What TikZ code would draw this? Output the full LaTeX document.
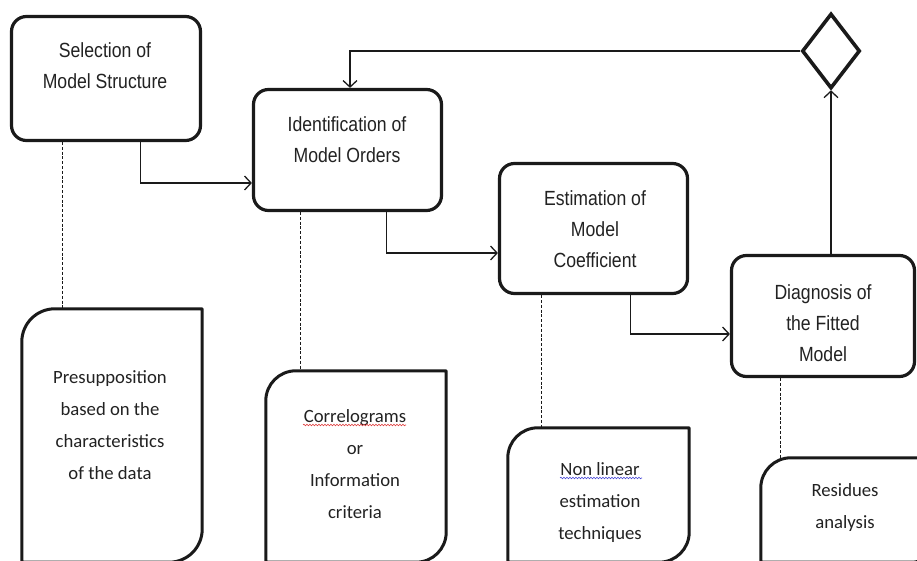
\documentclass[tikz,border=0pt]{standalone}
\usepackage{fontspec}
\newfontfamily\boxfont[FakeStretch=0.86]{Liberation Sans}
\newfontfamily\notefont{Carlito}
\usetikzlibrary{arrows.meta,calc,shapes.geometric,decorations.pathmorphing}
\definecolor{ink}{HTML}{1A1A1A}
\definecolor{txt}{HTML}{222222}
\definecolor{wavred}{HTML}{E04040}
\definecolor{wavblue}{HTML}{4A4AD8}
\begin{document}
\begin{tikzpicture}[x=1pt,y=-1pt,
 stepbox/.style={draw=ink, line width=3.2pt, rounded corners=15pt, inner sep=0pt},
 boxtext/.style={text=txt, align=center, font=\boxfont\fontsize{20.5}{31}\selectfont, inner sep=0pt},
 notebox/.style={inner sep=0pt, draw=none},
 noteline/.style={draw=ink, line width=3pt, line join=round},
 notetext/.style={text=txt, align=center, font=\notefont\fontsize{18.7}{32}\selectfont, inner sep=0pt},
 flow/.style={draw=ink, line width=1.3pt, -{Straight Barb[length=6.5pt,width=14pt]}},
 dashln/.style={draw=ink, line width=0.9pt, dash pattern=on 3pt off 1.8pt},
 wavy/.style={decorate, decoration={snake, amplitude=0.8pt, segment length=3pt}, line width=0.6pt}
]
\useasboundingbox[fill=white] (0,0) rectangle (917,561);

% process boxes
\node[stepbox, minimum width=189pt, minimum height=124pt] (b1) at (106,78.5) {};
\node[boxtext] (t1) at (105,66) {Selection of\\Model Structure};
\node[stepbox, minimum width=188pt, minimum height=121pt] (b2) at (347.5,150) {};
\node[boxtext] (t2) at (347,140) {Identification of\\Model Orders};
\node[stepbox, minimum width=188pt, minimum height=130pt] (b3) at (593.5,228.5) {};
\node[boxtext] (t3) at (595,229) {Estimation of\\Model\\Coefficient};
\node[stepbox, minimum width=183pt, minimum height=121pt] (b4) at (823,316) {};
\node[boxtext] (t4) at (823,323) {Diagnosis of\\the Fitted\\Model};

% decision diamond
\node[draw=ink, line width=3.6pt, diamond, minimum width=58pt, minimum height=75pt, inner sep=0pt] (d) at (831,51) {};

% note boxes
\node[notebox, minimum width=180pt, minimum height=253pt] (n1) at (112,435.5) {};
\node[notebox, minimum width=180pt, minimum height=191pt] (n2) at (356,466.5) {};
\node[notebox, minimum width=181pt, minimum height=134pt] (n3) at (598.5,495) {};
\node[notebox, minimum width=180pt, minimum height=104pt] (n4) at (851,510) {};
\foreach \n/\r in {n1/33pt,n2/30pt,n3/30pt,n4/30pt}{
  \draw[noteline] (\n.south west) [rounded corners=\r] -- (\n.north west) [sharp corners] -- (\n.north east) [rounded corners=\r] -- (\n.south east) [sharp corners] -- cycle;
}
\node[notetext] (nt1) at (110,425.5) {Presupposition\\based on the\\characteristics\\of the data};
\node[notetext] (nt2) at (355,464.5) {Correlograms\\or\\Information\\criteria};
\node[notetext] (nt3) at (600,502.5) {Non linear\\estimation\\techniques};
\node[notetext] (nt4) at (845,507.5) {Residues\\analysis};

% spell-check underlines
\draw[wavy, wavred] ($(nt2.center)+(-52,-39.5)$) -- ($(nt2.center)+(51,-39.5)$);
\draw[wavy, wavblue] ($(nt3.center)+(-40,-24.5)$) -- ($(nt3.center)+(42,-24.5)$);

% flow connectors
\coordinate (a1) at ($(b1.south west)+(130.5,0)$);
\coordinate (e1) at ($(b2.west)+(0,33)$);
\draw[flow] (a1) |- (e1);
\coordinate (a2) at ($(b2.south west)+(134.5,0)$);
\coordinate (e2) at ($(b3.west)+(0,24.5)$);
\draw[flow] (a2) |- (e2);
\coordinate (a3) at ($(b3.south west)+(132.5,0)$);
\coordinate (e3) at ($(b4.west)+(0,18)$);
\draw[flow] (a3) |- (e3);
\draw[flow] (d.south |- b4.north) -- (d.south);
\coordinate (fb) at ($(b2.north)+(2.5,0)$);
\draw[flow] (d.west) -| (fb);

% dashed links to notes
\coordinate (s1) at ($(b1.south west)+(52.5,0)$);
\draw[dashln] (s1) -- (s1 |- n1.north);
\coordinate (s2) at ($(b2.south west)+(48.5,0)$);
\draw[dashln] (s2) -- (s2 |- n2.north);
\coordinate (s3) at ($(b3.south west)+(43.5,0)$);
\draw[dashln] (s3) -- (s3 |- n3.north);
\coordinate (s4) at ($(b4.south west)+(50.5,0)$);
\draw[dashln] (s4) -- (s4 |- n4.north);
\end{tikzpicture}
\end{document}
